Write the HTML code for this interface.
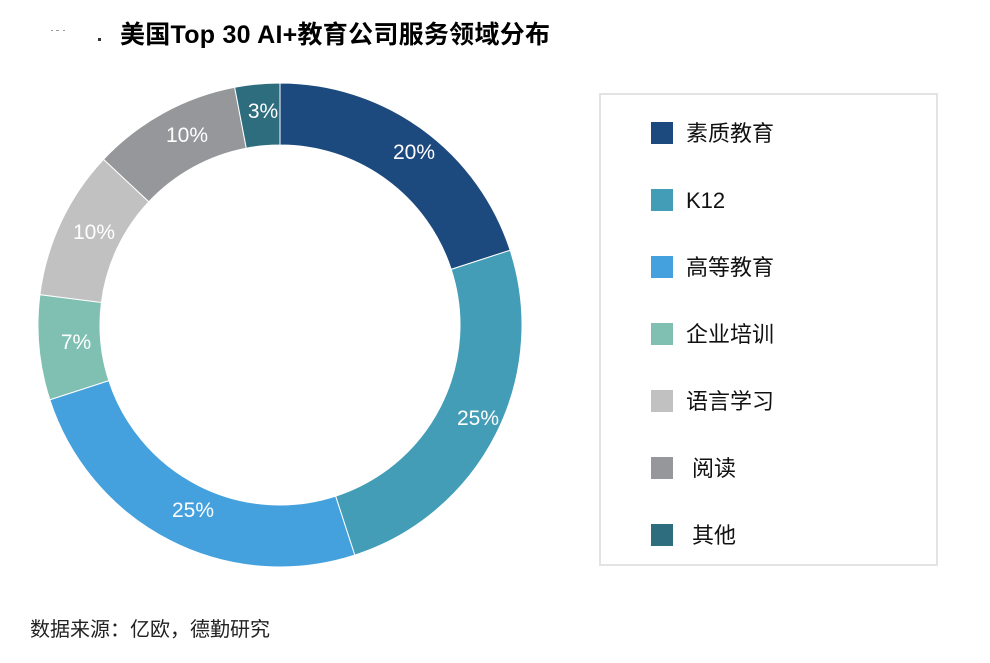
<!DOCTYPE html>
<html><head><meta charset="utf-8"><style>
body{margin:0;background:#fff;width:990px;height:658px;overflow:hidden;font-family:"Liberation Sans","Noto Sans CJK SC",sans-serif}
</style></head><body>
<svg width="990" height="658" xmlns="http://www.w3.org/2000/svg" id="s">
<text x="120" y="43" font-size="25" font-weight="bold" fill="#000" textLength="430" font-family="Liberation Sans, Noto Sans CJK SC, sans-serif">美国Top 30 AI+教育公司服务领域分布</text>
<rect x="51" y="30" width="2" height="1" fill="#999"/><rect x="56" y="30" width="3" height="1" fill="#999"/><rect x="63" y="30" width="2" height="1" fill="#999"/><rect x="98" y="38" width="3" height="3" fill="#333"/>
<g id="pie"></g>
<g font-size="21" fill="#fff" text-anchor="middle" font-family="Liberation Sans, sans-serif">
<text x="414" y="159">20%</text><text x="478" y="425">25%</text><text x="193" y="517">25%</text>
<text x="76" y="349">7%</text><text x="94" y="239">10%</text><text x="187" y="142">10%</text><text x="263" y="118">3%</text>
</g>
<rect x="600" y="94" width="337" height="471" fill="none" stroke="#e3e3e3" stroke-width="2"/>
<g font-size="22" fill="#111" font-family="Liberation Sans, Noto Sans CJK SC, sans-serif">
<rect x="651" y="122" width="22" height="22" fill="#1d4a7e"/><text x="686" y="141">素质教育</text>
<rect x="651" y="189" width="22" height="22" fill="#439db6"/><text x="686" y="208">K12</text>
<rect x="651" y="256" width="22" height="22" fill="#44a1de"/><text x="686" y="275">高等教育</text>
<rect x="651" y="323" width="22" height="22" fill="#7fc0b2"/><text x="686" y="342">企业培训</text>
<rect x="651" y="390" width="22" height="22" fill="#c0c1c0"/><text x="686" y="409">语言学习</text>
<rect x="651" y="457" width="22" height="22" fill="#96979a"/><text x="692" y="476">阅读</text>
<rect x="651" y="524" width="22" height="22" fill="#2e6d7e"/><text x="692" y="543">其他</text>
</g>
<text x="30" y="636" font-size="20" fill="#222" font-family="Liberation Sans, Noto Sans CJK SC, sans-serif">数据来源：亿欧，德勤研究</text>
</svg>
<script>
var cx=280,cy=325,R=242,r=180;
var d=[[20,"#1d4a7e"],[25,"#439db6"],[25,"#44a1de"],[7,"#7fc0b2"],[10,"#c0c1c0"],[10,"#96979a"],[3,"#2e6d7e"]];
var g=document.getElementById("pie"),a=0,h="";
function p(rad,ang){return [cx+rad*Math.sin(ang),cy-rad*Math.cos(ang)];}
d.forEach(function(s){
 var a0=a/100*2*Math.PI;a+=s[0];var a1=a/100*2*Math.PI;var l=(a1-a0)>Math.PI?1:0;
 var A=p(R,a0),B=p(R,a1),C=p(r,a1),D=p(r,a0);
 h+='<path d="M'+A+' A'+R+' '+R+' 0 '+l+' 1 '+B+' L'+C+' A'+r+' '+r+' 0 '+l+' 0 '+D+'Z" fill="'+s[1]+'" stroke="#fff" stroke-width="1"/>';
});
g.innerHTML=h;
</script>
</body></html>
